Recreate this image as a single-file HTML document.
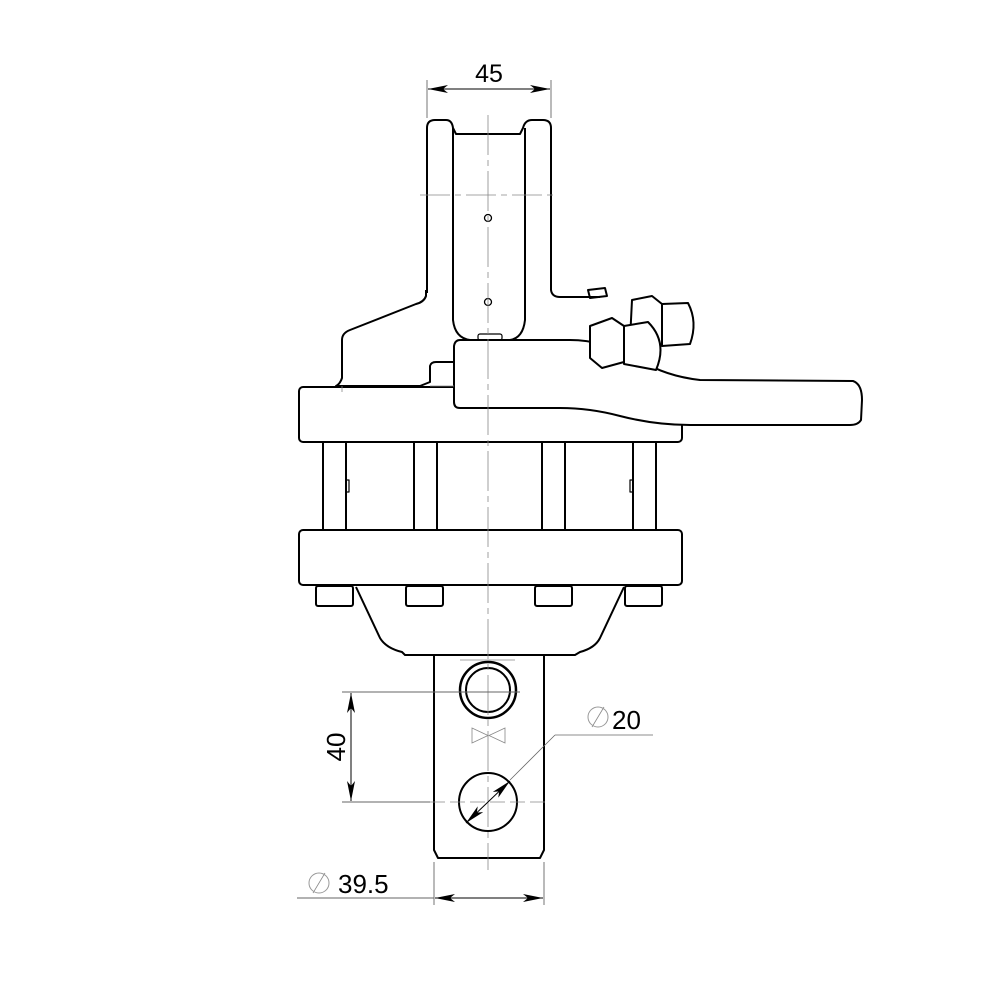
<!DOCTYPE html>
<html><head><style>body{margin:0;background:#fff}svg{display:block}</style></head><body>
<svg width="1000" height="1000" viewBox="0 0 1000 1000" xmlns="http://www.w3.org/2000/svg" font-family="Liberation Sans, sans-serif">
<defs>
<marker id="ar" viewBox="0 0 20 8" refX="20" refY="4" markerWidth="20" markerHeight="8" orient="auto" markerUnits="userSpaceOnUse"><path d="M0,0 L20,4 L0,8 L5,4 Z" fill="#000"/></marker>
</defs>
<g fill="none" stroke="#000" stroke-width="2" stroke-linejoin="round">
<!-- left housing -->
<path d="M426,290 L426,296 Q424,302 416,304 L350,330 Q342,333 342,340 L342,378 Q340,384 336,386 L420,386 L430,382 L430,366 Q431,362 436,362 L454,362" fill="#fff"/>
<!-- yoke -->
<path d="M427,293 L427,128 Q427,120 435,120 L446,120 Q452,120 453,128 L456,134 L520,134 L523,128 Q525,120 532,120 L543,120 Q551,120 551,128 L551,290 Q552,297 560,297 L600,297" fill="#fff"/>
<path d="M453,128 L453,320 Q455,338 470,340 L510,340 Q523,338 525,320 L525,128"/>
<rect x="478" y="334" width="24" height="6" rx="2" stroke-width="1.2"/>
<!-- upper flange -->
<rect x="299" y="387" width="383" height="55" rx="4" fill="#fff"/>
<!-- fittings back -->
<path d="M632,300 L652,296 L662,304 L662,344 L640,350 L630,340 Z" fill="#fff"/>
<path d="M662,304 L688,303 Q698,322 690,344 L662,346 Z" fill="#fff"/>
<!-- arm -->
<path d="M460,340 L570,340 Q605,340 640,360 Q665,376 700,380 L853,381 Q862,384 862,400 L861,420 Q858,425 850,425 L690,425 Q655,425 620,416 Q590,408 560,408 L460,408 Q454,408 454,402 L454,346 Q455,340 460,340 Z" fill="#fff"/>
<!-- fittings front -->
<path d="M590,326 L612,318 L624,326 L624,362 L602,368 L590,358 Z" fill="#fff"/>
<path d="M624,326 L648,322 Q668,342 656,370 L624,364 Z" fill="#fff"/>
<path d="M588,290 L605,288 L607,296 L590,298 Z"/>
<!-- posts -->
<line x1="323" y1="442" x2="323" y2="530"/><line x1="346" y1="442" x2="346" y2="530"/>
<line x1="414" y1="442" x2="414" y2="530"/><line x1="437" y1="442" x2="437" y2="530"/>
<line x1="542" y1="442" x2="542" y2="530"/><line x1="565" y1="442" x2="565" y2="530"/>
<line x1="633" y1="442" x2="633" y2="530"/><line x1="656" y1="442" x2="656" y2="530"/>
<path d="M346,480 h3 v12 h-3 M633,480 h-3 v12 h3" stroke-width="1.2"/>
<!-- lower flange -->
<rect x="299" y="530" width="383" height="55" rx="4" fill="#fff"/>
<!-- bolts -->
<rect x="316" y="586" width="37" height="20" rx="2"/>
<rect x="406" y="586" width="37" height="20" rx="2"/>
<rect x="535" y="586" width="37" height="20" rx="2"/>
<rect x="625" y="586" width="37" height="20" rx="2"/>
<!-- cone -->
<path d="M356,587 L380,638 Q386,648 402,652 L405,655 L575,655 L580,652 Q595,648 600,638 L624,587"/>
<!-- shaft -->
<path d="M434,655 L434,850 L438,858 L540,858 L544,850 L544,655"/>
<circle cx="488" cy="690" r="28" stroke-width="2.5"/>
<circle cx="488" cy="690" r="22"/>
<circle cx="488" cy="802" r="29"/>
<circle cx="488" cy="218" r="3.5" stroke-width="1.3"/>
<circle cx="488" cy="302" r="3.5" stroke-width="1.3"/>
</g>
<!-- thin lines -->
<g fill="none" stroke="#888" stroke-width="0.8">
<line x1="488" y1="115" x2="488" y2="870" stroke-dasharray="40,5,6,5"/>
<line x1="420" y1="195" x2="558" y2="195" stroke-dasharray="30,5,6,5"/>
<path d="M342,386 L342,392 M430,386 L454,386"/>
<line x1="460" y1="660" x2="515" y2="660" />
<path d="M472,728 L488,735.5 L472,743 Z M505,728 L489,735.5 L505,743 Z"/>
<line x1="430" y1="802" x2="550" y2="802" stroke-dasharray="15,5"/>
<line x1="555" y1="735" x2="653" y2="735" stroke="#666"/>
<line x1="555" y1="735" x2="510" y2="780" stroke="#666"/>
<path d="M592,727 L604,707" stroke="#888"/>
<path d="M313,893 L325,873" stroke="#888"/>
</g>
<g stroke="#666" stroke-width="0.9" fill="none">
<line x1="427" y1="80" x2="427" y2="118"/><line x1="551" y1="80" x2="551" y2="118"/>
<line x1="342" y1="692" x2="520" y2="692"/><line x1="342" y1="802" x2="430" y2="802"/>
<line x1="434" y1="862" x2="434" y2="905"/><line x1="544" y1="862" x2="544" y2="905"/>
<line x1="297" y1="898" x2="434" y2="898"/>
</g>
<g stroke="#000" stroke-width="1" fill="none">
<line x1="440" y1="89" x2="428" y2="89" marker-end="url(#ar)"/>
<line x1="440" y1="89" x2="550" y2="89" marker-end="url(#ar)"/>
<line x1="351" y1="740" x2="351" y2="693" marker-end="url(#ar)"/>
<line x1="351" y1="740" x2="351" y2="801" marker-end="url(#ar)"/>
<line x1="480" y1="898" x2="435" y2="898" marker-end="url(#ar)"/>
<line x1="480" y1="898" x2="543" y2="898" marker-end="url(#ar)"/>
<line x1="488" y1="802" x2="510" y2="781" marker-end="url(#ar)"/>
<line x1="488" y1="802" x2="466" y2="823" marker-end="url(#ar)"/>
</g>
<circle cx="598" cy="717" r="10" fill="none" stroke="#999" stroke-width="1"/>
<circle cx="319" cy="883" r="10" fill="none" stroke="#999" stroke-width="1"/>
<text x="489" y="82" font-size="25" text-anchor="middle">45</text>
<text x="612" y="729" font-size="26">20</text>
<text x="338" y="893" font-size="26">39.5</text>
<text x="0" y="0" font-size="26" text-anchor="middle" transform="translate(345,747) rotate(-90)">40</text>
</svg>
</body></html>
